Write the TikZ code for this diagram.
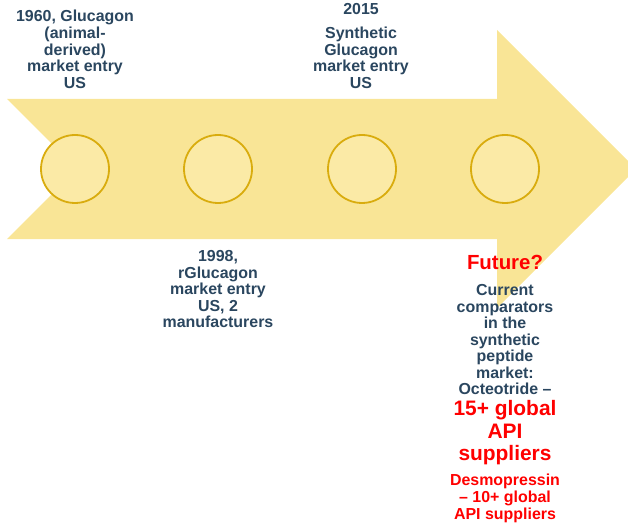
\documentclass[tikz,border=0pt]{standalone}
\usepackage{fontspec}
\setmainfont{Liberation Sans}

\definecolor{band}{HTML}{F9E596}
\definecolor{dotfill}{HTML}{FBEAA6}
\definecolor{dotline}{HTML}{D9AC0E}
\definecolor{ink}{HTML}{2A465F}
\definecolor{alert}{HTML}{FF0000}

\begin{document}
\begin{tikzpicture}[x=1bp, y=-1bp,
    caption/.style={font=\bfseries\fontsize{16}{16.6}\selectfont, text=ink, align=center, inner sep=0pt, anchor=north},
    hot/.style={caption, text=alert},
    milestone/.style={circle, draw=dotline, fill=dotfill, line width=1.8bp, minimum size=68bp, inner sep=0pt}
]
    \clip (0,0) rectangle (628,525);

    % Timeline arrow
    \fill[band] (7,99) -- (497,99) -- (497,30) -- (636,169) -- (497,308)
        -- (497,239) -- (7,239) -- (77,169) -- cycle;

    % Milestones
    \node[milestone] (m1) at (75,169) {};
    \node[milestone] (m2) at (218,169) {};
    \node[milestone] (m3) at (362,169) {};
    \node[milestone] (m4) at (505,169) {};

    % Above the arrow
    \node[caption] (t1960) at (75,10.2) {1960, Glucagon\\(animal-\\derived)\\market entry\\US};
    \node[caption] (t2015) at (361,3.2) {2015\\[7.5bp]Synthetic\\Glucagon\\market entry\\US};

    % Below the arrow
    \node[caption] (t1998) at (218,250.2) {1998,\\rGlucagon\\market entry\\US, 2\\manufacturers};

    % Outlook
    \node[hot, font=\bfseries\fontsize{20.5}{22}\selectfont] (future) at (505,254.6) {Future?};
    \node[caption] (comparators) at (505,284.2) {Current\\comparators\\in the\\synthetic\\peptide\\market:\\Octeotride --};
    \node[hot, font=\bfseries\fontsize{21}{22.5}\selectfont] (octeo) at (505,400.5) {15+ global\\API\\suppliers};
    \node[hot, font=\bfseries\fontsize{16}{17}\selectfont] (desmo) at (505,474.2) {Desmopressin\\-- 10+ global\\API suppliers};
\end{tikzpicture}
\end{document}
